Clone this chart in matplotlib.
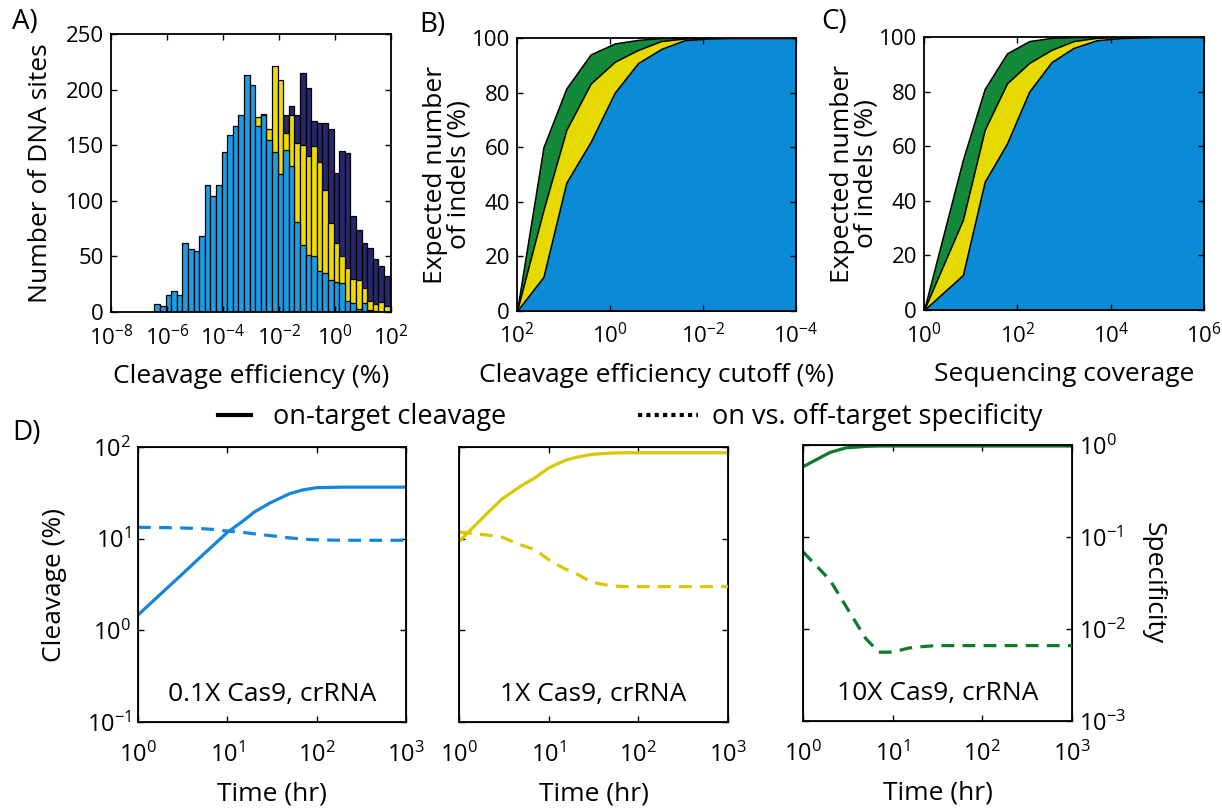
import numpy as np
import matplotlib
matplotlib.use('Agg')
import matplotlib.pyplot as plt
from matplotlib.lines import Line2D
from matplotlib.ticker import NullLocator

plt.rcParams['font.family'] = ['Open Sans', 'DejaVu Sans']
plt.rcParams['mathtext.fontset'] = 'custom'
plt.rcParams['mathtext.rm'] = 'Open Sans'
plt.rcParams['mathtext.it'] = 'Open Sans:italic'
plt.rcParams['mathtext.bf'] = 'Open Sans:bold'

# ---- A) histogram of cleavage efficiency (bins of 0.2 decade) ----
bin_start = -6.45   # log10 of first bin's left edge
bin_step = 0.2
hist_navy = [0, 0, 0, 1, 2, 3, 5, 6, 8, 10, 15, 20, 25, 30, 40, 50, 60, 80, 100, 120, 140, 150, 165,
             177, 185, 177, 215, 201, 172, 170, 170, 165, 125, 145, 143, 86, 74, 62, 58, 48, 41, 32]
hist_yellow = [0, 0, 2, 4, 5, 10, 12, 15, 20, 30, 40, 50, 60, 80, 100, 120, 140, 160, 175, 178, 165,
               221, 209, 161, 177, 152, 150, 140, 149, 135, 110, 80, 62, 50, 40, 30, 29, 22, 10, 7, 9, 5]
hist_blue = [7, 5, 15, 19, 15, 62, 57, 55, 68, 114, 104, 114, 144, 159, 167, 177, 213, 204,
             167, 177, 155, 144, 124, 146, 131, 81, 60, 51, 50, 37, 35, 29, 27, 26, 10, 8, 3, 8, 2, 1, 0, 0]

# ---- B) expected indels vs cleavage cutoff ----
cutoff = [100, 27, 8.7, 2.6, 0.79, 0.25, 0.079, 0.025, 0.0079, 0.0025, 0.0001]
b_green = [0, 60, 81.5, 94, 98, 99.3, 100, 100, 100, 100, 100]
b_yellow = [0, 37, 66.3, 83.3, 91.3, 95.6, 98.9, 99.8, 100, 100, 100]
b_blue = [0, 12.5, 47, 62, 80, 90.8, 96, 99.2, 99.8, 100, 100]

# ---- C) expected indels vs sequencing coverage ----
coverage = [1, 6.8, 20, 60, 180, 540, 1600, 5000, 16000, 1e5, 1e6]
c_green = [0, 55, 81, 94, 98.5, 99.7, 100, 100, 100, 100, 100]
c_yellow = [0, 33, 66, 83, 90.5, 95.3, 98.5, 99.7, 100, 100, 100]
c_blue = [0, 12.8, 47, 61, 80, 90.8, 96, 98.8, 99.6, 100, 100]

# ---- D) time courses ----
time_hr = [1, 2, 3, 5, 7, 10, 15, 20, 30, 50, 70, 100, 200, 500, 1000]
cleav_01x = [1.47, 2.75, 3.95, 6.3, 8.5, 11.7, 15.6, 19.5, 24.5, 31, 34, 36, 36.5, 36.5, 36.5]
spec_01x = [.133, .132, .131, .129, .126, .121, .117, .113, .108, .102, .099, .097, .096, .096, .096]
cleav_1x = [9.3, 18.3, 27, 38, 46, 59, 71, 77, 83, 86, 86.5, 86.5, 86.5, 86.5, 86.5]
spec_1x = [.118, .11, .104, .085, .076, .059, .047, .042, .0335, .0305, .030, .030, .030, .030, .030]
cleav_10x = [58, 83, 93, 96.5, 97.5, 97.5, 97.5, 97.5, 97.5, 97.5, 97.5, 97.5, 97.5, 97.5, 97.5]
spec_10x = [.069, .034, .0178, .0079, .0056, .0056, .0062, .0064, .0066, .0066, .0066, .0066, .0066, .0066, .0066]
conditions = ['0.1X Cas9, crRNA', '1X Cas9, crRNA', '10X Cas9, crRNA']

navy = '#26276c'
hyellow = '#f0db00'
hblue = '#1c9ce4'
fgreen = '#15893a'
fyellow = '#e6d900'
fblue = '#0b8bd6'
lblue = '#1585dc'
lyellow = '#d9c800'
lgreen = '#0e7a2c'

LAB = 19      # axis label size
TICK = 16

W, H = 1222, 808
fig = plt.figure(figsize=(W / 100, H / 100), dpi=100)


def box(l, t, r, b):
    return [l / W, 1 - b / H, (r - l) / W, (b - t) / H]


def style(ax, xpad=9):
    ax.tick_params(direction='in', top=True, right=True, length=4, width=1,
                   labelsize=TICK)
    ax.tick_params(axis='x', pad=xpad)
    ax.tick_params(axis='y', pad=5)
    for s in ax.spines.values():
        s.set_linewidth(1.3)


# A
axA = fig.add_axes(box(111, 34, 391, 312))
edges_lo = [10 ** (bin_start + bin_step * k) for k in range(len(hist_blue))]
edges_hi = [10 ** (bin_start + bin_step * (k + 1)) for k in range(len(hist_blue))]
widths = [hi - lo for lo, hi in zip(edges_lo, edges_hi)]
for vals, col in [(hist_navy, navy), (hist_yellow, hyellow), (hist_blue, hblue)]:
    axA.bar(edges_lo, vals, width=widths, align='edge', color=col,
            edgecolor='black', linewidth=0.9)
axA.set_xscale('log')
axA.set_xlim(1e-8, 1e2)
axA.set_ylim(0, 250)
axA.set_xticks([1e-8, 1e-6, 1e-4, 1e-2, 1e0, 1e2])
axA.xaxis.set_minor_locator(NullLocator())
axA.set_yticks([0, 50, 100, 150, 200, 250])
style(axA)
axA.set_xlabel('Cleavage efficiency (%)', fontsize=LAB, labelpad=10)
axA.set_ylabel('Number of DNA sites', fontsize=LAB, labelpad=9)

# B and C
for (l, t, r, b), xs, curves, xlim, xt, xlabel in [
        ((517, 38, 796, 311), cutoff, (b_green, b_yellow, b_blue), (1e2, 1e-4),
         [1e2, 1e0, 1e-2, 1e-4], 'Cleavage efficiency cutoff (%)'),
        ((924, 37, 1204, 310), coverage, (c_green, c_yellow, c_blue), (1e0, 1e6),
         [1e0, 1e2, 1e4, 1e6], 'Sequencing coverage')]:
    ax = fig.add_axes(box(l, t, r, b))
    for ys, col in zip(curves, (fgreen, fyellow, fblue)):
        ax.fill_between(xs, 0, ys, facecolor=col, edgecolor='black', linewidth=1.1)
    ax.set_xscale('log')
    ax.set_xlim(*xlim)
    ax.set_ylim(0, 100)
    ax.set_xticks(xt)
    ax.xaxis.set_minor_locator(NullLocator())
    ax.set_yticks([0, 20, 40, 60, 80, 100])
    style(ax)
    ax.set_xlabel(xlabel, fontsize=LAB, labelpad=10)
    ax.set_ylabel('Expected number\nof indels (%)', fontsize=LAB, labelpad=0,
                  linespacing=0.95)

# D
d_boxes = [(138, 447, 406, 722), (459, 447, 728, 722), (803, 445, 1072, 721)]
d_data = [(cleav_01x, spec_01x, lblue), (cleav_1x, spec_1x, lyellow), (cleav_10x, spec_10x, lgreen)]
for i, (bx, (cl, sp, col)) in enumerate(zip(d_boxes, d_data)):
    ax = fig.add_axes(box(*bx))
    ax2 = ax.twinx()
    ax.plot(time_hr, cl, color=col, lw=2.3, solid_capstyle='butt')
    ax2.plot(time_hr, sp, color=col, lw=2.3, dashes=(4, 2.6))
    for a in (ax, ax2):
        a.set_xscale('log')
        a.set_yscale('log')
        a.set_xlim(1, 1000)
        a.xaxis.set_minor_locator(NullLocator())
        a.yaxis.set_minor_locator(NullLocator())
    ax.set_ylim(0.1, 100)
    ax2.set_ylim(1e-3, 1)
    ax.set_xticks([1, 10, 100, 1000])
    ax.set_yticks([0.1, 1, 10, 100])
    ax2.set_yticks([1e-3, 1e-2, 1e-1, 1])
    style(ax, xpad=15)
    ax2.tick_params(direction='in', length=4, width=1, labelsize=TICK + 1, pad=5)
    ax.tick_params(right=False, labelsize=TICK + 1)
    if i != 0:
        ax.tick_params(labelleft=False)
    if i != 2:
        ax2.tick_params(labelright=False)
    else:
        ax2.set_ylabel('Specificity', fontsize=LAB, rotation=270, labelpad=28)
    if i == 0:
        ax.set_ylabel('Cleavage (%)', fontsize=LAB, labelpad=14)
    ax.set_xlabel('Time (hr)', fontsize=LAB, labelpad=10)
    ax.text(0.5, 0.1, conditions[i], transform=ax.transAxes, ha='center',
            va='center', fontsize=19)

# panel letters
for lab, x, y in [('A)', 12, 22), ('B)', 419, 25), ('C)', 821, 22), ('D)', 12, 433)]:
    fig.text(x / W, 1 - y / H, lab, fontsize=20, ha='left', va='center')

# legend for D
leg1 = fig.legend([Line2D([], [], color='black', lw=3)], ['on-target cleavage'],
                  loc='center left', bbox_to_anchor=(194 / W, 1 - 417 / H),
                  frameon=False, fontsize=19.5, handlelength=1.2, handletextpad=0.8)
leg2 = fig.legend([Line2D([], [], color='black', lw=3, ls=(0, (1, 1)))],
                  ['on vs. off-target specificity'],
                  loc='center left', bbox_to_anchor=(614 / W, 1 - 417 / H),
                  frameon=False, fontsize=19.5, handlelength=2.2, handletextpad=0.5)

fig.savefig('out.png', dpi=100)
